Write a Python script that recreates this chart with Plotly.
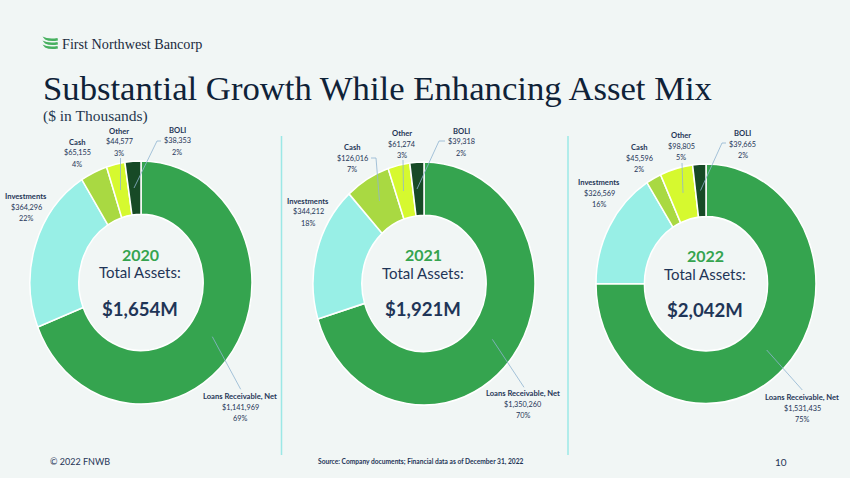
import json
import plotly.graph_objects as go

segments = ["Loans Receivable, Net", "Investments", "Cash", "Other", "BOLI"]
years = ["2020", "2021", "2022"]
totals = ["$1,654M", "$1,921M", "$2,042M"]
values_2020 = [1141969, 364296, 65155, 44577, 38353]
values_2021 = [1350260, 344212, 126016, 61274, 39318]
values_2022 = [1531435, 326569, 45596, 98805, 39665]
pcts_2020 = ["69%", "22%", "4%", "3%", "2%"]
pcts_2021 = ["70%", "18%", "7%", "3%", "2%"]
pcts_2022 = ["75%", "16%", "2%", "5%", "2%"]
colors = ["#35A44F", "#98EFE6", "#A9D942", "#D6F92F", "#174A26"]

W, H = 850, 478
BG = "#F1F6F5"
NAVY = "#1F3557"
SANS = "Lato, sans-serif"
SERIF = "'Liberation Serif', serif"

fig = go.Figure()
def px(x): return x / W
def py(y): return 1 - y / H
def note(x, y, text, size, color=NAVY, font=SANS, anchor="center"):
    fig.add_annotation(x=px(x), y=py(y), xref="paper", yref="paper", text=text, showarrow=False,
                       font=dict(size=size, color=color, family=font), xanchor=anchor, yanchor="middle", align="center")
def line(x0, y0, x1, y1, color="#8FB4D0", width=0.8):
    fig.add_shape(type="line", xref="paper", yref="paper", x0=px(x0), y0=py(y0), x1=px(x1), y1=py(y1),
                  line=dict(color=color, width=width))

# the reference rings are slightly taller than wide: cy/r give the centre and width, stretch the height
charts = [
    dict(vals=values_2020, pcts=pcts_2020, cx=141, cy=282.5, r=111, stretch=1.095, ty=272.5,
         labels=[(240, 407), (26, 207), (77, 153), (119, 142), (177, 141)],
         leaders=[[(212.3, 336.7), (240.7, 389.3)], None, None, [(120.5, 158), (120.5, 190)], [(134, 188), (157, 141), (161, 141)]]),
    dict(vals=values_2021, pcts=pcts_2021, cx=424, cy=283.5, r=111, stretch=1.095, ty=273,
         labels=[(523, 404.5), (308, 212), (352, 158), (402, 144), (461, 142)],
         leaders=[[(492.3, 339.3), (524, 387.3)], None, [(371, 158), (376, 158), (379.5, 201)], [(403, 160), (403.5, 191)], [(417, 189), (439, 141), (445, 141)]]),
    dict(vals=values_2022, pcts=pcts_2022, cx=706, cy=283.75, r=110, stretch=1.089, ty=274,
         labels=[(802, 408), (599, 193), (639, 158), (681, 146), (742.5, 144)],
         leaders=[[(766.7, 350), (802.3, 390)], None, None, [(682, 163), (683, 193)], [(700.5, 190.5), (722, 143), (726, 143)]]),
]

for i, c in enumerate(charts):
    fig.add_trace(go.Pie(
        labels=segments, values=c["vals"], hole=0.56, sort=False, direction="clockwise", rotation=0,
        marker=dict(colors=colors, line=dict(color="#FFFFFF", width=1.5)), textinfo="none", hoverinfo="label+value+percent",
        showlegend=False,
        domain=dict(x=[px(c["cx"] - c["r"]), px(c["cx"] + c["r"])], y=[py(c["cy"] + c["r"]), py(c["cy"] - c["r"])]),
    ))
    note(c["cx"] - 1, c["ty"] - 18.5, f"<b>{years[i]}</b>", 16, "#35A44F")
    note(c["cx"] - 1, c["ty"] - 0.5, "Total Assets:", 15, NAVY)
    note(c["cx"] - 1, c["ty"] + 36, f"<b>{totals[i]}</b>", 18.6, NAVY)
    for seg, v, p, (lx, ly) in zip(segments, c["vals"], c["pcts"], c["labels"]):
        note(lx, ly - 11.3, f"<b>{seg}</b>", 7.6, NAVY)
        note(lx, ly, f"${v:,}", 7.3, NAVY)
        note(lx, ly + 11.3, p, 7.3, NAVY)
    for pts in c["leaders"]:
        if pts:
            for a, b in zip(pts, pts[1:]):
                line(a[0], a[1], b[0], b[1])

line(281.5, 136, 281.5, 455, "#9BE8E6", 1.5)
line(568, 136, 568, 455, "#9BE8E6", 1.5)

# logo ribbons
for y0 in (36.5, 40.5, 44.5):
    fig.add_shape(type="path", xref="paper", yref="paper",
        path=f"M {px(42.5)} {py(y0)} Q {px(48)} {py(y0+3)} {px(57.5)} {py(y0+1.5)} L {px(58)} {py(y0+4)} Q {px(50)} {py(y0+5.5)} {px(45)} {py(y0+3)} Z",
        fillcolor="#47B05F", line=dict(width=0))
note(60, 44, "First Northwest Bancorp", 14.2, "#1A2A3D", SERIF, "left")
note(41, 88, "Substantial Growth While Enhancing Asset Mix", 34.7, "#0F2238", SERIF, "left")
note(41, 116, "($ in Thousands)", 15.5, "#26384F", SERIF, "left")
note(48, 461, "© 2022 FNWB", 9, NAVY, SANS, "left")
note(421, 461, "<b>Source: Company documents; Financial data as of December 31, 2022</b>", 6.65, NAVY)
note(781, 462, "10", 10, NAVY)

fig.update_layout(width=W, height=H, margin=dict(l=0, r=0, t=0, b=0), paper_bgcolor=BG, plot_bgcolor=BG)
cys = json.dumps([c["cy"] for c in charts])
stretches = json.dumps([c["stretch"] for c in charts])
post = (
    "document.body.style.margin='0';document.body.style.background='#F1F6F5';"
    f"var cys={cys},sts={stretches};"
    "document.querySelectorAll('.pielayer .trace').forEach(function(g,i){"
    "g.setAttribute('transform','translate(0 '+cys[i]+') scale(1 '+sts[i]+') translate(0 '+(-cys[i])+')');});"
)
fig.write_html("out.html", config=dict(displayModeBar=False), post_script=post)
